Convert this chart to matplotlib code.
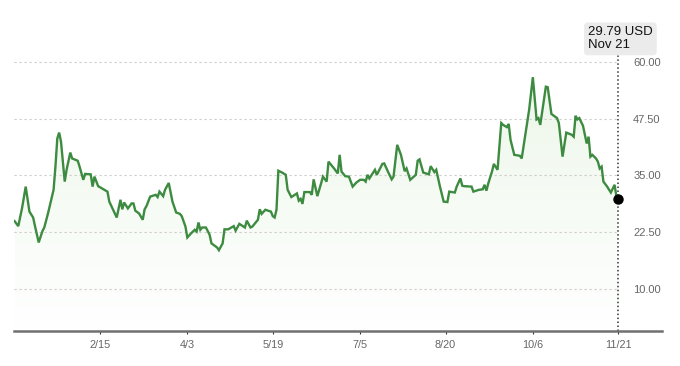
import matplotlib
matplotlib.use("Agg")
import matplotlib.pyplot as plt
import numpy as np
import pandas as pd
from matplotlib.colors import LinearSegmentedColormap

plt.rcParams["font.family"] = ["Liberation Sans", "DejaVu Sans"]

# day of year 2023 (0 = Jan 1) and closing price
day = [
  -1, 1, 3, 5, 7, 9, 10, 12, 14, 15, 17, 20, 21, 22, 23, 24, 26, 27, 29, 30,
  33, 34, 36, 37, 40, 41, 42, 44, 49, 50, 54, 56, 57, 58, 60, 62, 63, 64, 66, 68,
  69, 70, 72, 75, 76, 77, 79, 80, 82, 84, 86, 88, 89, 91, 92, 94, 96, 97, 98, 99,
  100, 102, 104, 105, 108, 109, 111, 112, 114, 117, 118, 120, 123, 124, 126, 127, 130, 131, 132, 134,
  137, 138, 139, 140, 141, 143, 145, 146, 148, 151, 152, 153, 154, 155, 158, 159, 160, 162, 164, 165,
  167, 168, 171, 173, 174, 175, 177, 179, 181, 183, 185, 187, 188, 189, 190, 193, 194, 197, 198, 200,
  202, 203, 205, 207, 209, 210, 212, 215, 216, 217, 219, 222, 223, 225, 226, 228, 230, 232, 233, 236,
  237, 239, 240, 241, 245, 246, 249, 251, 252, 253, 254, 256, 257, 259, 261, 262, 264, 265, 266, 268,
  271, 272, 276, 278, 280, 281, 282, 285, 286, 288, 291, 292, 294, 296, 299, 300, 301, 302, 303, 305,
  307, 308, 309, 310, 312, 313, 314, 315, 316, 318, 320, 322, 323, 324,
]
price = [
  24.9, 23.8, 27.7, 32.5, 27.0, 25.7, 23.8, 20.2, 22.7, 23.5, 26.6, 31.8, 36.9, 43.1, 44.4, 42.4, 33.6, 36.2, 40.0, 38.7,
  38.2, 36.9, 34.0, 35.3, 35.2, 32.5, 34.7, 32.6, 31.4, 29.2, 25.7, 29.6, 27.5, 29.0, 27.7, 28.8, 28.8, 27.2, 26.6, 25.2,
  27.5, 28.2, 30.3, 30.7, 30.2, 31.4, 30.4, 31.8, 33.3, 29.2, 26.8, 26.5, 26.0, 23.7, 21.3, 22.2, 23.0, 22.6, 24.6, 23.0,
  23.5, 23.5, 21.9, 20.0, 19.1, 18.5, 20.0, 23.1, 23.1, 23.8, 22.8, 24.3, 23.5, 25.0, 23.5, 23.7, 25.2, 27.5, 26.5, 27.4,
  27.0, 26.0, 25.7, 27.4, 36.0, 35.6, 35.1, 31.8, 30.2, 31.0, 29.4, 29.8, 28.7, 31.3, 31.3, 30.7, 34.1, 30.4, 33.2, 34.7,
  33.6, 38.0, 36.5, 35.4, 39.5, 35.8, 34.8, 34.7, 32.5, 33.4, 34.0, 34.0, 33.6, 35.1, 34.3, 36.2, 35.1, 37.5, 37.6, 35.8,
  34.1, 34.7, 41.7, 39.5, 35.9, 36.5, 34.0, 35.1, 38.2, 38.5, 35.6, 35.2, 37.0, 35.7, 36.2, 32.5, 29.2, 29.1, 31.4, 31.2,
  32.5, 34.3, 32.7, 32.6, 32.5, 31.4, 31.8, 31.9, 32.9, 31.6, 33.2, 35.8, 37.5, 36.2, 46.5, 46.1, 45.6, 46.3, 42.8, 39.5,
  39.3, 38.7, 49.4, 56.6, 47.3, 47.6, 46.1, 54.5, 54.4, 48.5, 47.6, 46.5, 39.1, 44.4, 43.9, 43.5, 48.1, 47.3, 47.6, 45.9,
  42.0, 43.5, 39.1, 39.5, 38.7, 38.0, 36.5, 36.9, 33.6, 32.5, 31.2, 32.9, 30.3, 29.79,
]

tick_dates = ["2023-02-15", "2023-04-03", "2023-05-19", "2023-07-05",
              "2023-08-20", "2023-10-06", "2023-11-21"]
tick_labels = ["2/15", "4/3", "5/19", "7/5", "8/20", "10/6", "11/21"]
y_ticks = [10.0, 22.5, 35.0, 47.5, 60.0]

LINE = "#3d8b40"
GREY = "#666666"


def main() -> None:
  x = np.array(day, dtype=float)
  y = np.array(price)
  ticks = pd.to_datetime(tick_dates).dayofyear - 1
  y0, y1 = 0.7, 73.6

  fig = plt.figure(figsize=(6.8, 3.66), dpi=100)
  ax = fig.add_axes([0.0206, 0.0956, 0.9534, 0.9044])
  ax.set_xlim(-1.3, 347.7)
  ax.set_ylim(y0, y1)

  # soft green gradient under the line
  poly = ax.fill_between(x, y, y0, color="none", lw=0)
  cmap = LinearSegmentedColormap.from_list("g", ["#ffffff", "#edf7ea"])
  grad = np.linspace(0, 1, 256).reshape(-1, 1)
  im = ax.imshow(grad, extent=[x[0], x[-1], y0, 58], origin="lower",
                 aspect="auto", cmap=cmap, zorder=1)
  im.set_clip_path(poly.get_paths()[0], transform=ax.transData)

  ax.hlines(y_ticks, x[0] - 0.3, x[-1], colors="#cdcdcd", lw=0.8,
            linestyles=(0, (2, 2.5)), zorder=1)
  ax.plot(x, y, color=LINE, lw=1.7, zorder=3, solid_joinstyle="miter")

  ax.vlines(x[-1], y0, 61.5, colors="#333333", lw=1.1,
            linestyles=(0, (1, 1.6)), zorder=2)
  ax.plot(x[-1], y[-1], "o", color="black", ms=6.5, zorder=4)
  ax.text(x[-1] - 16.3, 62.3, f"{y[-1]:.2f} USD\nNov 21", ha="left", va="bottom",
          fontsize=9.5, color="#111111", linespacing=1.1,
          bbox=dict(boxstyle="round,pad=0.3,rounding_size=0.3", fc="#ebebeb", ec="none"))

  for side in ("top", "left", "right"):
    ax.spines[side].set_visible(False)
  ax.spines["bottom"].set_color("#707070")
  ax.spines["bottom"].set_linewidth(1.8)

  ax.set_xticks(ticks)
  ax.set_xticklabels(tick_labels)
  ax.tick_params(axis="x", length=2.4, width=0.8, color="#333333", pad=4,
                 labelcolor=GREY, labelsize=7.8)

  ax.yaxis.tick_right()
  ax.set_yticks(y_ticks)
  ax.set_yticklabels([f"{v:.2f}" for v in y_ticks])
  ax.tick_params(axis="y", length=0, pad=-21, labelcolor=GREY, labelsize=8)

  fig.savefig("out.png", dpi=100, facecolor="white")


if __name__ == "__main__":
  main()
